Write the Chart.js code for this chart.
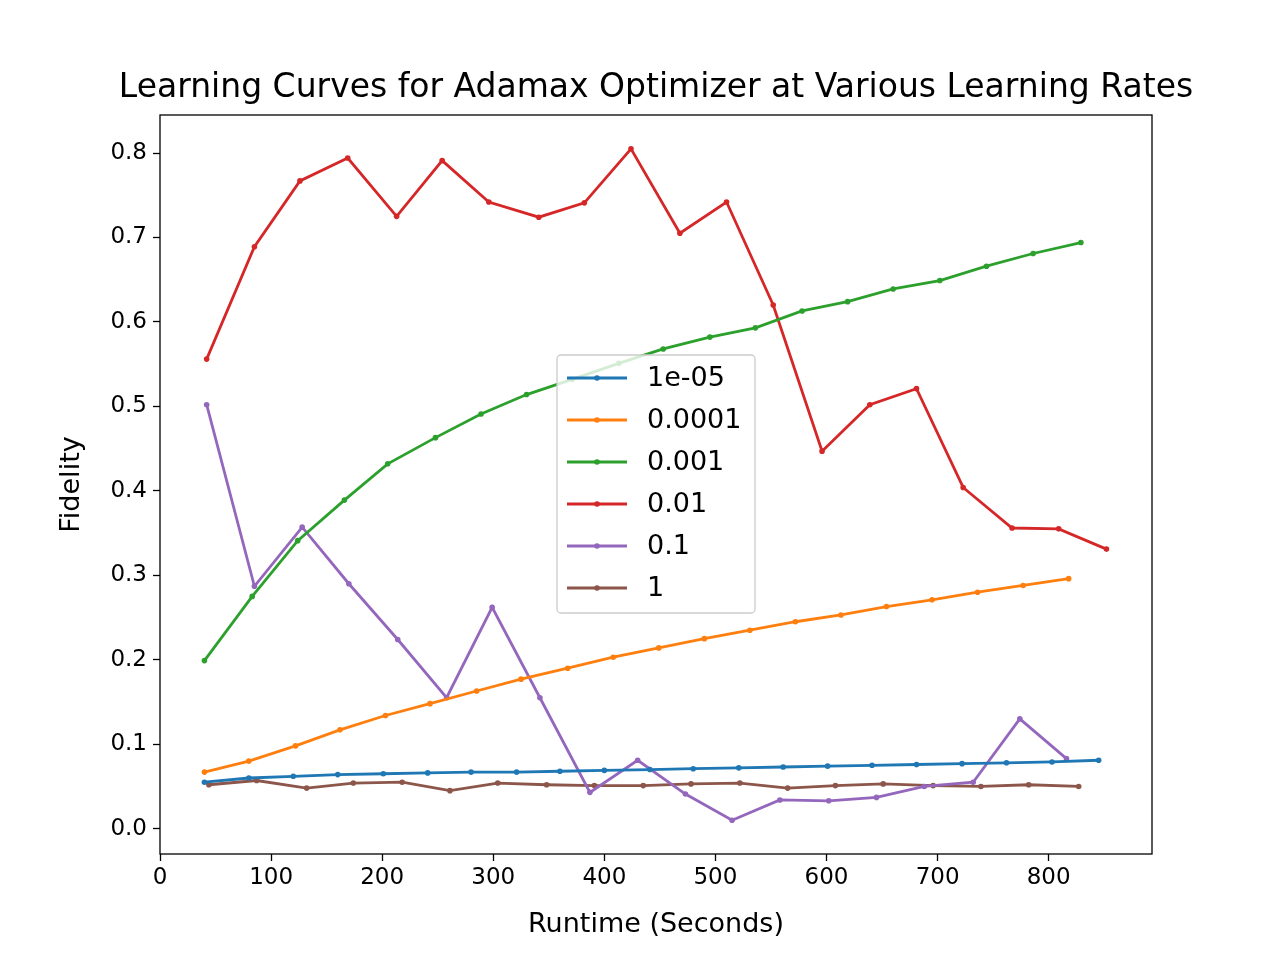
<!DOCTYPE html>
<html>
<head>
<meta charset="utf-8">
<script src="https://cdn.jsdelivr.net/npm/chart.js@4.4.0/dist/chart.umd.min.js"></script>
<style>
  html, body { margin: 0; padding: 0; background: #fff; }
  #wrap { width: 1280px; height: 960px; }
</style>
</head>
<body>
<div id="wrap"><canvas id="grafico" width="1280" height="960"></canvas></div>
<script>
// Data
const seriesLabels = ['1e-05', '0.0001', '0.001', '0.01', '0.1', '1'];
const seriesColors = ['#1f77b4', '#ff7f0e', '#2ca02c', '#d62728', '#9467bd', '#8c564b'];

const xLr1e5 = [40, 80, 120, 160, 201, 241, 280, 321, 360, 400, 441, 480, 521, 561, 601, 641, 681, 722, 762, 803, 845];
const yLr1e5 = [0.055, 0.060, 0.062, 0.064, 0.065, 0.066, 0.067, 0.067, 0.068, 0.069, 0.070, 0.071, 0.072, 0.073, 0.074, 0.075, 0.076, 0.077, 0.078, 0.079, 0.081];

const xLr1e4 = [40, 80, 122, 162, 203, 243, 285, 325, 367, 408, 449, 490, 531, 572, 613, 654, 695, 736, 777, 818];
const yLr1e4 = [0.067, 0.080, 0.098, 0.117, 0.134, 0.148, 0.163, 0.177, 0.190, 0.203, 0.214, 0.225, 0.235, 0.245, 0.253, 0.263, 0.271, 0.280, 0.288, 0.296];

const xLr1e3 = [40, 83, 124, 166, 205, 248, 289, 330, 371, 413, 453, 495, 536, 578, 619, 660, 702, 744, 786, 829];
const yLr1e3 = [0.199, 0.275, 0.341, 0.389, 0.432, 0.463, 0.491, 0.514, 0.532, 0.551, 0.568, 0.582, 0.593, 0.613, 0.624, 0.639, 0.649, 0.666, 0.681, 0.694];

const xLr1e2 = [42, 85, 126, 169, 213, 254, 296, 341, 382, 424, 468, 510, 552, 596, 639, 681, 723, 767, 809, 852];
const yLr1e2 = [0.556, 0.689, 0.767, 0.794, 0.725, 0.791, 0.742, 0.724, 0.741, 0.805, 0.705, 0.742, 0.620, 0.447, 0.502, 0.521, 0.404, 0.356, 0.355, 0.331];

const xLr1e1 = [42, 85, 128, 170, 214, 258, 299, 342, 387, 430, 473, 515, 558, 602, 645, 688, 732, 774, 816];
const yLr1e1 = [0.502, 0.287, 0.357, 0.290, 0.224, 0.155, 0.262, 0.155, 0.043, 0.081, 0.041, 0.010, 0.034, 0.033, 0.037, 0.050, 0.055, 0.130, 0.083];

const xLr1 = [44, 87, 132, 174, 218, 261, 304, 348, 391, 435, 478, 522, 565, 608, 651, 696, 739, 782, 827];
const yLr1 = [0.052, 0.057, 0.048, 0.054, 0.055, 0.045, 0.054, 0.052, 0.051, 0.051, 0.053, 0.054, 0.048, 0.051, 0.053, 0.051, 0.050, 0.052, 0.050];

const xTicks = [0, 100, 200, 300, 400, 500, 600, 700, 800];
const yTicks = [0.0, 0.1, 0.2, 0.3, 0.4, 0.5, 0.6, 0.7, 0.8];

const allX = [xLr1e5, xLr1e4, xLr1e3, xLr1e2, xLr1e1, xLr1];
const allY = [yLr1e5, yLr1e4, yLr1e3, yLr1e2, yLr1e1, yLr1];

const FONT = "'DejaVu Sans', sans-serif";

const datasets = seriesLabels.map((lbl, i) => ({
    label: lbl,
    data: allX[i].map((x, j) => ({ x: x, y: allY[i][j] })),
    borderColor: seriesColors[i],
    backgroundColor: seriesColors[i],
    borderWidth: 2.8,
    pointRadius: 2.8,
    pointBorderWidth: 0,
    pointHoverRadius: 2.8,
    tension: 0
}));

// Frame, title, axis titles and legend inside the plot
const decorPlugin = {
    id: 'decor',
    afterDraw(chart) {
        const ctx = chart.ctx;
        const a = chart.chartArea;
        ctx.save();
        ctx.strokeStyle = '#000';
        ctx.lineWidth = 1.3;
        ctx.strokeRect(a.left, a.top, a.right - a.left, a.bottom - a.top);

        ctx.fillStyle = '#000';
        ctx.textAlign = 'center';
        ctx.textBaseline = 'middle';
        ctx.font = '33px ' + FONT;
        ctx.fillText('Learning Curves for Adamax Optimizer at Various Learning Rates', 656, 88);

        ctx.font = '27px ' + FONT;
        ctx.fillText('Runtime (Seconds)', 656, 925);
        ctx.save();
        ctx.translate(72, (a.top + a.bottom) / 2);
        ctx.rotate(-Math.PI / 2);
        ctx.fillText('Fidelity', 0, 0);
        ctx.restore();

        // legend box
        const bx = 557, by = 355, bw = 198, bh = 258;
        ctx.fillStyle = 'rgba(255,255,255,0.8)';
        ctx.strokeStyle = '#cccccc';
        ctx.lineWidth = 1.3;
        ctx.beginPath();
        if (ctx.roundRect) ctx.roundRect(bx, by, bw, bh, 4); else ctx.rect(bx, by, bw, bh);
        ctx.fill();
        ctx.stroke();
        ctx.textAlign = 'left';
        ctx.font = '27px ' + FONT;
        chart.data.datasets.forEach((ds, i) => {
            const yy = 378 + i * 42;
            ctx.strokeStyle = ds.borderColor;
            ctx.lineWidth = 2.8;
            ctx.beginPath();
            ctx.moveTo(567, yy);
            ctx.lineTo(627, yy);
            ctx.stroke();
            ctx.fillStyle = ds.borderColor;
            ctx.beginPath();
            ctx.arc(597, yy, 2.8, 0, Math.PI * 2);
            ctx.fill();
            ctx.fillStyle = '#000';
            ctx.fillText(ds.label, 647, yy + 1);
        });
        ctx.restore();
    }
};

new Chart(document.getElementById('grafico').getContext('2d'), {
    type: 'line',
    data: { datasets: datasets },
    plugins: [decorPlugin],
    options: {
        responsive: false,
        animation: false,
        devicePixelRatio: 1,
        layout: { padding: { top: 115, right: 128, left: 0, bottom: 0 } },
        plugins: { legend: { display: false }, title: { display: false }, tooltip: { enabled: false } },
        scales: {
            x: {
                type: 'linear',
                min: 0,
                max: 893,
                afterBuildTicks: s => { s.ticks = xTicks.map(v => ({ value: v })); },
                afterFit: s => { s.height = 106; },
                ticks: { color: '#000', font: { size: 23, family: FONT }, padding: 3, maxRotation: 0, callback: v => String(v) },
                grid: { drawOnChartArea: false, color: '#000', tickLength: 7, tickWidth: 1.3 },
                border: { display: false }
            },
            y: {
                type: 'linear',
                min: -0.03,
                max: 0.845,
                afterBuildTicks: s => { s.ticks = yTicks.map(v => ({ value: v })); },
                afterFit: s => { s.width = 160; },
                ticks: { color: '#000', font: { size: 23, family: FONT }, padding: 6, callback: v => Number(v).toFixed(1) },
                grid: { drawOnChartArea: false, color: '#000', tickLength: 7, tickWidth: 1.3 },
                border: { display: false }
            }
        }
    }
});
</script>
</body>
</html>
